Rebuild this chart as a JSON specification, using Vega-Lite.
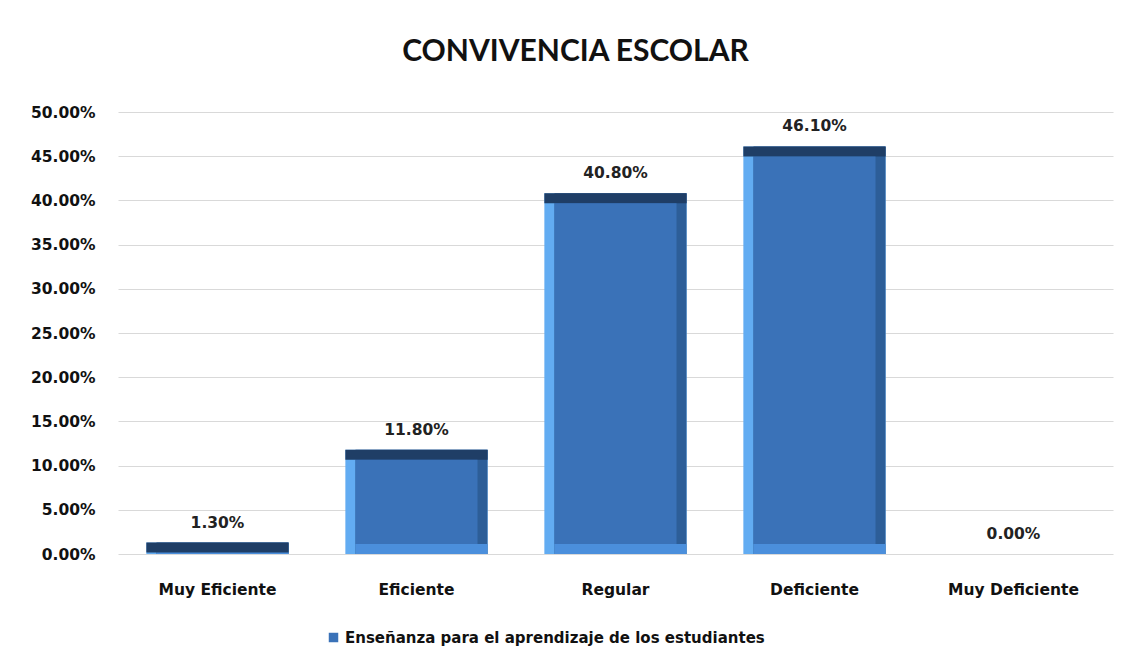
{
  "$schema": "https://vega.github.io/schema/vega-lite/v6.json",
  "width": 995,
  "height": 442,
  "autosize": {"type": "none"},
  "padding": {"left": 118, "top": 112, "right": 17, "bottom": 113},
  "background": "white",
  "title": {
    "text": "CONVIVENCIA ESCOLAR",
    "font": "Lato",
    "fontSize": 30,
    "fontWeight": "bold",
    "color": "#111111",
    "anchor": "middle",
    "frame": "group",
    "dx": -40,
    "offset": 38
  },
  "data": {
    "values": [
      {"category": "Muy Eficiente", "value": 0.013, "series": "Enseñanza para el aprendizaje de los estudiantes"},
      {"category": "Eficiente", "value": 0.118, "series": "Enseñanza para el aprendizaje de los estudiantes"},
      {"category": "Regular", "value": 0.408, "series": "Enseñanza para el aprendizaje de los estudiantes"},
      {"category": "Deficiente", "value": 0.461, "series": "Enseñanza para el aprendizaje de los estudiantes"},
      {"category": "Muy Deficiente", "value": 0.0, "series": "Enseñanza para el aprendizaje de los estudiantes"}
    ]
  },
  "encoding": {
    "x": {
      "field": "category",
      "type": "nominal",
      "sort": null,
      "scale": {"paddingInner": 0.285, "paddingOuter": 0.1425},
      "axis": {
        "title": null,
        "labelAngle": 0,
        "labelFont": "DejaVu Sans",
        "labelFontSize": 15.5,
        "labelFontWeight": "bold",
        "labelColor": "#111111",
        "labelPadding": 28,
        "ticks": false,
        "domain": false
      }
    }
  },
  "layer": [
    {
      "transform": [{"filter": "datum.value > 0"}],
      "mark": {"type": "bar", "color": "#62acf2"},
      "encoding": {
        "y": {
          "field": "value",
          "type": "quantitative",
          "scale": {"domain": [0, 0.5], "nice": false},
          "axis": {
            "title": null,
            "values": [0, 0.05, 0.1, 0.15, 0.2, 0.25, 0.3, 0.35, 0.4, 0.45, 0.5],
            "format": ".2%",
            "labelFont": "DejaVu Sans",
            "labelFontSize": 15.5,
            "labelFontWeight": "bold",
            "labelColor": "#111111",
            "labelPadding": 23,
            "ticks": false,
            "domain": false,
            "gridColor": "#d9d9d9",
            "gridWidth": 1.2
          }
        },
        "y2": {"datum": 0}
      }
    },
    {
      "transform": [{"filter": "datum.value > 0"}],
      "mark": {"type": "bar", "color": "#2d5e98", "width": 132, "xOffset": 5},
      "encoding": {
        "y": {"field": "value", "type": "quantitative"},
        "y2": {"datum": 0}
      }
    },
    {
      "transform": [{"filter": "datum.value > 0"}],
      "mark": {"type": "bar", "color": "#4b8fdc", "width": 132, "xOffset": 5, "yOffset": -10},
      "encoding": {
        "y": {"datum": 0, "type": "quantitative"},
        "y2": {"datum": 0}
      }
    },
    {
      "transform": [{"filter": "datum.value > 0"}],
      "mark": {"type": "bar", "color": "#1f3e66", "y2Offset": 10},
      "encoding": {
        "y": {"field": "value", "type": "quantitative"},
        "y2": {"field": "value"}
      }
    },
    {
      "transform": [{"filter": "datum.value > 0.03"}],
      "mark": {"type": "bar", "width": 122, "yOffset": 10, "y2Offset": -10},
      "encoding": {
        "y": {"field": "value", "type": "quantitative"},
        "y2": {"datum": 0},
        "color": {
          "field": "series",
          "type": "nominal",
          "scale": {"range": ["#3a72b8"]},
          "legend": {
            "title": null,
            "orient": "none",
            "legendX": 208,
            "legendY": 518,
            "symbolType": "square",
            "symbolSize": 90,
            "symbolFillColor": "#4a90e0",
            "labelFont": "DejaVu Sans",
            "labelFontSize": 15,
            "labelFontWeight": "bold",
            "labelColor": "#111111",
            "labelLimit": 700
          }
        }
      }
    },
    {
      "mark": {"type": "text", "baseline": "bottom", "dy": -12, "font": "DejaVu Sans", "fontSize": 15.5, "fontWeight": "bold", "color": "#222222"},
      "encoding": {
        "y": {"field": "value", "type": "quantitative"},
        "text": {"field": "value", "type": "quantitative", "format": ".2%"}
      }
    }
  ],
  "config": {"view": {"stroke": null}}
}
